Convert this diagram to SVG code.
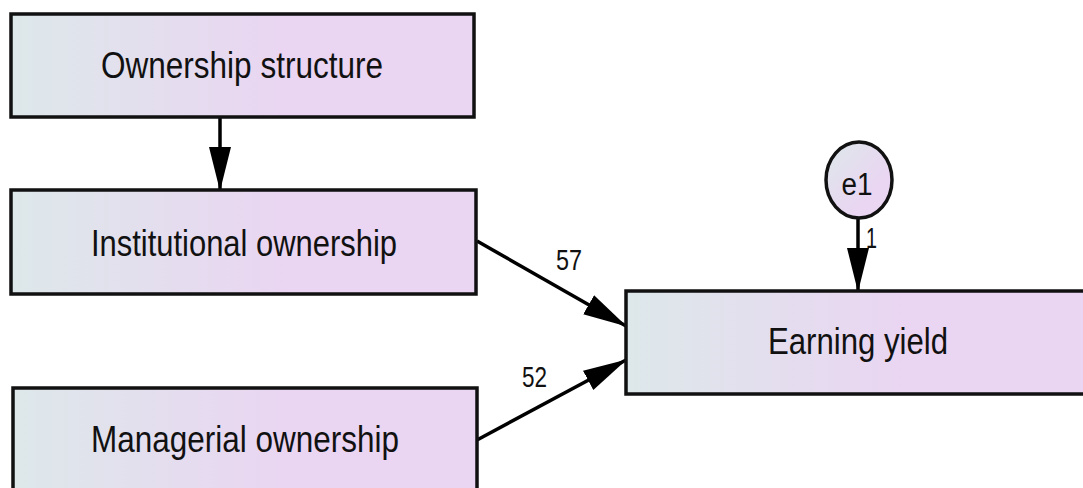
<svg xmlns="http://www.w3.org/2000/svg" width="1083" height="488" viewBox="0 0 1083 488">
<style>
.box{stroke:#111;stroke-width:3.5;fill:url(#g)}
.lbl{font-family:"Liberation Sans",Arial,sans-serif;font-size:36px;fill:#111;text-anchor:middle}
.num{font-family:"Liberation Sans",Arial,sans-serif;font-size:30px;fill:#111}
.edge{stroke:#000;stroke-width:3.5;fill:none;marker-end:url(#ah)}
</style>
<defs>
<linearGradient id="g" x1="0" y1="0" x2="1" y2="0">
<stop offset="0" stop-color="#dde8ea"/>
<stop offset="0.6" stop-color="#ead5f2"/>
<stop offset="1" stop-color="#ead5f2"/>
</linearGradient>
<linearGradient id="gc" x1="0" y1="0" x2="1" y2="1">
<stop offset="0" stop-color="#dde8ea"/>
<stop offset="0.7" stop-color="#ead5f2"/>
</linearGradient>
<marker id="ah" markerUnits="userSpaceOnUse" markerWidth="44" markerHeight="24" viewBox="0 0 44 24" refX="43" refY="12" orient="auto">
<path d="M0,1 L44,12 L0,23 z" fill="#000"/>
</marker>
</defs>
<g id="connectors">
<line class="edge" x1="220" y1="117" x2="220" y2="190"/>
<line class="edge" x1="858" y1="219" x2="858" y2="291"/>
<line class="edge" x1="477" y1="241" x2="626" y2="326"/>
<line class="edge" x1="477" y1="440" x2="626" y2="360"/>
<text class="num" x="556" y="270" textLength="26" lengthAdjust="spacingAndGlyphs">57</text>
<text class="num" x="522" y="387" textLength="25" lengthAdjust="spacingAndGlyphs">52</text>
<text class="num" x="866" y="248" textLength="11" lengthAdjust="spacingAndGlyphs">1</text>
</g>
<g id="ownership-structure">
<rect class="box" x="11" y="14" width="463" height="103"/>
<text class="lbl" x="242" y="78" textLength="282" lengthAdjust="spacingAndGlyphs">Ownership structure</text>
</g>
<g id="institutional-ownership">
<rect class="box" x="11" y="190" width="465" height="104"/>
<text class="lbl" x="244" y="256" textLength="306" lengthAdjust="spacingAndGlyphs">Institutional ownership</text>
</g>
<g id="managerial-ownership">
<rect class="box" x="13" y="388" width="464" height="110"/>
<text class="lbl" x="245" y="452" textLength="308" lengthAdjust="spacingAndGlyphs">Managerial ownership</text>
</g>
<g id="earning-yield">
<rect class="box" x="626" y="291" width="470" height="103"/>
<text class="lbl" x="858" y="354" textLength="180" lengthAdjust="spacingAndGlyphs">Earning yield</text>
</g>
<g id="e1">
<ellipse cx="859" cy="180" rx="33" ry="38" fill="url(#gc)" stroke="#111" stroke-width="3.5"/>
<text class="lbl" x="857" y="195" style="font-size:31px" textLength="31" lengthAdjust="spacingAndGlyphs">e1</text>
</g>
</svg>
